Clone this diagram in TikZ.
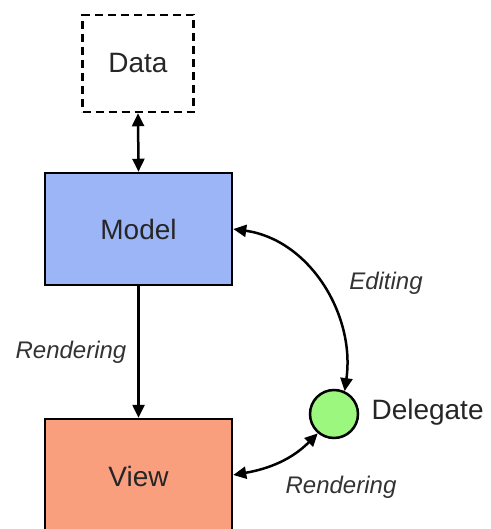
\documentclass[tikz,border=0pt]{standalone}
\usepackage{fontspec}
\setmainfont{Liberation Sans}
\usetikzlibrary{arrows.meta}
\definecolor{modelblue}{HTML}{9BB5F7}
\definecolor{viewsalmon}{HTML}{FA9F7E}
\definecolor{delgreen}{HTML}{9CF77E}
\tikzset{
  box/.style={draw=black, line width=2.5pt, minimum width=187pt, minimum height=112pt, inner sep=0pt, font=\fontsize{28}{32}\selectfont, text=black!85},
  conn/.style={line width=2.5pt, -{Triangle[length=13pt,width=12pt]}},
  biconn/.style={line width=2.5pt, {Triangle[length=13pt,width=12pt]}-{Triangle[length=13pt,width=12pt]}},
  lab/.style={font=\fontsize{24}{28}\selectfont\itshape, text=black!80},
}
\begin{document}
\begin{tikzpicture}[x=1pt,y=-1pt]
\useasboundingbox (0,0) rectangle (490,529);
\node[draw=black, line width=2.5pt, dash pattern=on 8pt off 5pt, minimum width=111pt, minimum height=97pt, inner sep=0pt, font=\fontsize{28}{32}\selectfont, text=black!85] (data) at (138,63.5) {Data};
\node[box, fill=modelblue] (model) at (138.5,229) {Model};
\node[box, fill=viewsalmon, minimum height=114pt] (view) at (138.5,476) {View};
\node[circle, draw=black, line width=2.5pt, fill=delgreen, minimum size=48pt, inner sep=0pt] (del) at (334,414) {};
\node[anchor=west, font=\fontsize{28}{32}\selectfont, text=black!85] (dellab) at (368,412) {Delegate};
\draw[biconn] (data.south) -- (model.north);
\draw[conn] (model.south) -- (view.north);
\node[lab] (r1) at (71,352) {Rendering};
\draw[biconn] (model.east |- 0,229) to[out=-8, in=82] (del.65);
\node[lab] (ed) at (386,283) {Editing};
\draw[biconn] (view.east |- 0,475) to[out=10, in=-135] (del.-130);
\node[lab] (r2) at (341,487) {Rendering};
\end{tikzpicture}
\end{document}
